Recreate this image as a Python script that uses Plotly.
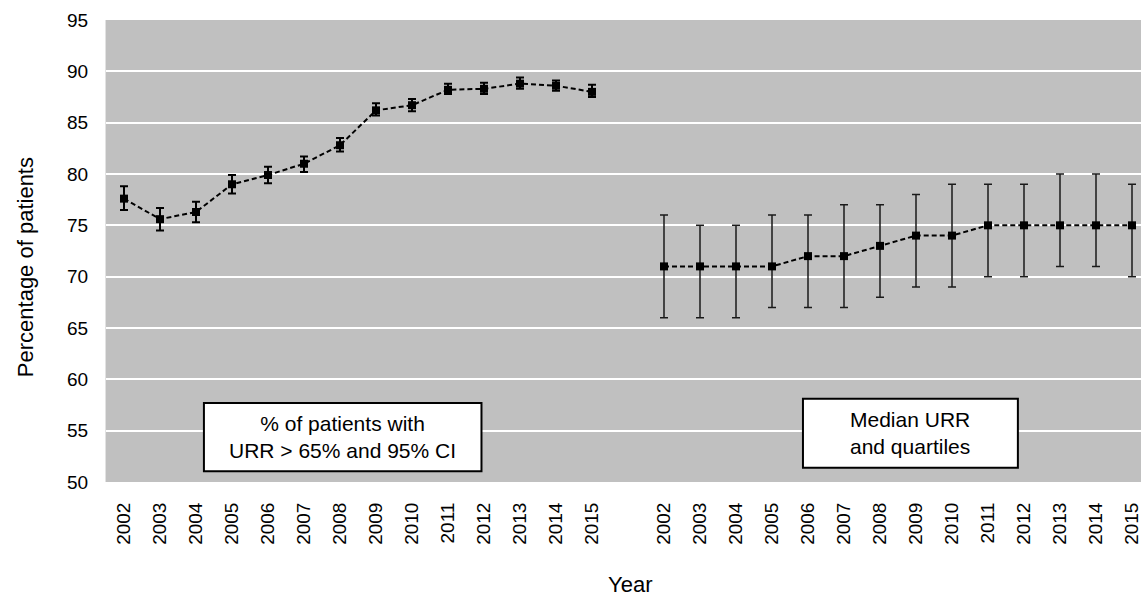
import plotly.graph_objects as go

# ---- data ----
years = [2002, 2003, 2004, 2005, 2006, 2007, 2008, 2009, 2010, 2011, 2012, 2013, 2014, 2015]

# % of patients with URR > 65% and 95% CI
pct_urr65 = [77.6, 75.6, 76.3, 79.0, 79.9, 81.0, 82.8, 86.2, 86.7, 88.2, 88.3, 88.8, 88.6, 88.0]
ci_upper = [78.8, 76.7, 77.3, 79.9, 80.7, 81.7, 83.5, 86.9, 87.3, 88.8, 88.9, 89.4, 89.1, 88.7]
ci_lower = [76.5, 74.5, 75.3, 78.1, 79.1, 80.2, 82.2, 85.7, 86.1, 87.8, 87.8, 88.3, 88.1, 87.5]

# Median URR and quartiles
median_urr = [71, 71, 71, 71, 72, 72, 73, 74, 74, 75, 75, 75, 75, 75]
q1_urr = [66, 66, 66, 67, 67, 67, 68, 69, 69, 70, 70, 71, 71, 70]
q3_urr = [76, 75, 75, 76, 76, 77, 77, 78, 79, 79, 79, 80, 80, 79]

box_left_text = "% of patients with<br>URR > 65% and 95% CI"
box_right_text = "Median URR<br>and quartiles"

# ---- positions on a shared category axis (one blank slot between panels) ----
n = len(years)
x_left = list(range(n))
x_right = [n + 1 + i for i in range(n)]
tick_vals = x_left + x_right
tick_text = [str(y) for y in years] * 2

FONT = "Arial, Liberation Sans, sans-serif"

fig = go.Figure()

fig.add_trace(go.Scatter(
    x=x_left, y=pct_urr65, mode="lines+markers",
    line=dict(color="black", width=2, dash="5px,3px"),
    marker=dict(symbol="square", size=8, color="black"),
    error_y=dict(type="data", symmetric=False,
                 array=[u - v for u, v in zip(ci_upper, pct_urr65)],
                 arrayminus=[v - l for v, l in zip(pct_urr65, ci_lower)],
                 color="black", thickness=2, width=4),
    showlegend=False, hoverinfo="skip",
))

fig.add_trace(go.Scatter(
    x=x_right, y=median_urr, mode="lines+markers",
    line=dict(color="black", width=2, dash="5px,3px"),
    marker=dict(symbol="square", size=8, color="black"),
    error_y=dict(type="data", symmetric=False,
                 array=[q3 - m for q3, m in zip(q3_urr, median_urr)],
                 arrayminus=[m - q1 for m, q1 in zip(median_urr, q1_urr)],
                 color="#1a1a1a", thickness=1.5, width=4),
    showlegend=False, hoverinfo="skip",
))

x_range = [-0.5, 28.25]

fig.update_layout(
    width=1141, height=599,
    margin=dict(l=106, r=0, t=20, b=117),
    paper_bgcolor="white",
    plot_bgcolor="#C0C0C0",
    font=dict(family=FONT, color="black"),
    xaxis=dict(
        range=x_range, tickmode="array", tickvals=tick_vals, ticktext=tick_text,
        tickangle=-90, tickfont=dict(size=19, family=FONT, color="black"),
        ticks="outside", ticklen=12, tickcolor="white",
        ticklabeloverflow="allow",
        showgrid=False, zeroline=False, showline=False,
    ),
    xaxis2=dict(
        overlaying="x", anchor="y", side="bottom", range=x_range,
        tickmode="array", tickvals=[-0.5, 13.5, 27.5],
        ticks="inside", ticklen=4, tickwidth=3, tickcolor="white",
        showticklabels=False, showgrid=False, zeroline=False, showline=False,
    ),
    yaxis=dict(
        range=[50, 95], tickmode="linear", tick0=50, dtick=5,
        tickfont=dict(size=19, family=FONT, color="black"),
        ticks="outside", ticklen=13, tickcolor="white",
        showgrid=True, gridcolor="white", gridwidth=2,
        zeroline=False, showline=True, linecolor="#E2E2E2", linewidth=1,
    ),
    shapes=[
        dict(type="rect", xref="x", yref="y", x0=2.22, x1=9.93, y0=51.05, y1=57.7,
             line=dict(color="black", width=2), fillcolor="white", layer="above"),
        dict(type="rect", xref="x", yref="y", x0=18.86, x1=24.83, y0=51.4, y1=58.1,
             line=dict(color="black", width=2), fillcolor="white", layer="above"),
    ],
    annotations=[
        dict(text=box_left_text, xref="x", yref="y", x=6.075, y=54.4,
             showarrow=False, font=dict(size=21, family=FONT, color="black"),
             xanchor="center", yanchor="middle"),
        dict(text=box_right_text, xref="x", yref="y", x=21.845, y=54.75,
             showarrow=False, font=dict(size=21, family=FONT, color="black"),
             xanchor="center", yanchor="middle"),
        dict(text="Percentage of patients", xref="paper", yref="paper",
             x=0, xshift=-81, y=0.465, textangle=-90, showarrow=False,
             font=dict(size=22, family=FONT, color="black"),
             xanchor="center", yanchor="middle"),
        dict(text="Year", xref="paper", yref="paper",
             x=0.506, y=-0.2532, showarrow=False,
             font=dict(size=22, family=FONT, color="black"),
             xanchor="center", yanchor="bottom"),
    ],
)

fig.write_html(
    "out.html",
    config={"displayModeBar": False},
    post_script="document.body.style.margin='0';document.body.style.overflow='hidden';",
)
